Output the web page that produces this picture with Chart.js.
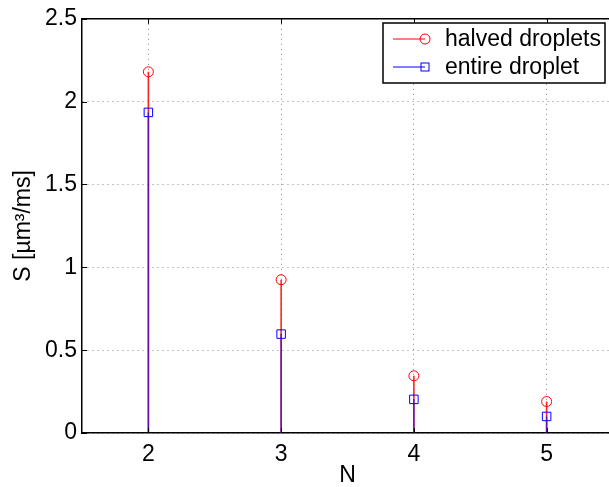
<!DOCTYPE html>
<html>
<head>
<meta charset="utf-8">
<script src="https://cdn.jsdelivr.net/npm/chart.js@4"></script>
<style>
  html, body { margin: 0; padding: 0; overflow: hidden; background: #fff; }
</style>
</head>
<body>
<canvas id="stemChart" width="620" height="487"></canvas>
<script>
// data
const nValues = [2, 3, 4, 5];
const halvedDroplets = [2.18, 0.925, 0.345, 0.19];
const entireDroplet = [1.935, 0.597, 0.203, 0.10];
const xTicks = [2, 3, 4, 5];
const yTicks = [0, 0.5, 1, 1.5, 2, 2.5];

const FONT = "'Liberation Sans', Arial, Helvetica, sans-serif";

const toPoints = (ys) => nValues.map((n, i) => ({ x: n, y: ys[i] }));

// vertical stems from each marker down to zero
const stemPlugin = {
  id: "stems",
  beforeDatasetsDraw(chart) {
    const ctx = chart.ctx;
    const y0 = chart.scales.y.getPixelForValue(0);
    const colors = ["rgba(255,0,0,0.85)", "rgba(0,0,255,0.6)"];
    ctx.save();
    chart.data.datasets.forEach((ds, di) => {
      const meta = chart.getDatasetMeta(di);
      ctx.strokeStyle = colors[di];
      ctx.lineWidth = 1.6;
      meta.data.forEach((pt) => {
        ctx.beginPath();
        ctx.moveTo(pt.x, pt.y);
        ctx.lineTo(pt.x, y0);
        ctx.stroke();
      });
    });
    ctx.restore();
  },
};

// MATLAB style frame: top line and inward ticks
const framePlugin = {
  id: "frame",
  afterDraw(chart) {
    const { ctx, chartArea: a, scales } = chart;
    ctx.save();
    ctx.strokeStyle = "#000";
    ctx.lineWidth = 1.5;
    ctx.beginPath();
    ctx.moveTo(a.left, a.top);
    ctx.lineTo(a.right, a.top);
    ctx.stroke();
    ctx.lineWidth = 1;
    xTicks.forEach((v) => {
      const x = Math.round(scales.x.getPixelForValue(v)) + 0.5;
      ctx.beginPath();
      ctx.moveTo(x, a.bottom);
      ctx.lineTo(x, a.bottom - 5);
      ctx.moveTo(x, a.top);
      ctx.lineTo(x, a.top + 5);
      ctx.stroke();
    });
    yTicks.forEach((v) => {
      const y = Math.round(scales.y.getPixelForValue(v)) + 0.5;
      ctx.beginPath();
      ctx.moveTo(a.left, y);
      ctx.lineTo(a.left + 5, y);
      ctx.stroke();
    });
    ctx.restore();
  },
};

// legend box in the upper right corner
const legendPlugin = {
  id: "boxLegend",
  afterDraw(chart) {
    const ctx = chart.ctx;
    const bx = 383, by = 23, bw = 222, bh = 60;
    ctx.save();
    ctx.fillStyle = "#fff";
    ctx.fillRect(bx, by, bw, bh);
    ctx.strokeStyle = "#000";
    ctx.lineWidth = 1.5;
    ctx.strokeRect(bx, by, bw, bh);
    ctx.font = "23px " + FONT;
    ctx.textBaseline = "middle";
    const rows = [by + 16, by + 44];
    chart.data.datasets.forEach((ds, i) => {
      const y = rows[i];
      ctx.strokeStyle = ds.borderColor;
      ctx.lineWidth = 1;
      ctx.beginPath();
      ctx.moveTo(bx + 10, y);
      ctx.lineTo(bx + 42, y);
      ctx.stroke();
      if (ds.pointStyle === "circle") {
        ctx.beginPath();
        ctx.arc(bx + 42, y, 5, 0, Math.PI * 2);
        ctx.stroke();
      } else {
        ctx.strokeRect(bx + 38, y - 4, 8, 8);
      }
      ctx.fillStyle = "#000";
      ctx.fillText(ds.label, bx + 62, y + 1);
    });
    ctx.restore();
  },
};

const ctx = document.getElementById("stemChart").getContext("2d");
new Chart(ctx, {
  type: "scatter",
  data: {
    datasets: [
      {
        label: "halved droplets",
        data: toPoints(halvedDroplets),
        pointStyle: "circle",
        pointRadius: 5,
        borderColor: "#ff0000",
        backgroundColor: "rgba(0,0,0,0)",
        borderWidth: 1,
      },
      {
        label: "entire droplet",
        data: toPoints(entireDroplet),
        pointStyle: "rect",
        pointRadius: 6,
        borderColor: "#0000ff",
        backgroundColor: "rgba(0,0,0,0)",
        borderWidth: 1,
      },
    ],
  },
  options: {
    responsive: false,
    animation: false,
    layout: { padding: { top: 15, right: 7, left: 0, bottom: 0 } },
    plugins: {
      legend: { display: false },
      tooltip: { enabled: false },
    },
    scales: {
      x: {
        type: "linear",
        min: 1.5,
        max: 5.5,
        afterBuildTicks: (scale) => {
          scale.ticks = xTicks.map((v) => ({ value: v }));
        },
        afterFit: (scale) => { scale.height = 54; },
        grid: { color: "#888", lineWidth: 1, drawTicks: false },
        border: { color: "#000", width: 1.5, dash: [1, 4] },
        ticks: { color: "#000", padding: 8, font: { family: FONT, size: 23 } },
        title: {
          display: true,
          text: "N",
          color: "#000",
          font: { family: FONT, size: 23 },
          padding: { top: 0, bottom: -2 },
        },
      },
      y: {
        min: 0,
        max: 2.5,
        afterBuildTicks: (scale) => {
          scale.ticks = yTicks.map((v) => ({ value: v }));
        },
        afterFit: (scale) => { scale.width = 82; },
        grid: { color: "#888", lineWidth: 1, drawTicks: false },
        border: { color: "#000", width: 1.5, dash: [1, 4] },
        ticks: {
          color: "#000",
          padding: 5,
          font: { family: FONT, size: 23 },
          callback: (v) => String(v),
        },
        title: {
          display: true,
          text: "S [µm³/ms]",
          color: "#000",
          font: { family: FONT, size: 23 },
          padding: { top: 10, bottom: 0 },
        },
      },
    },
  },
  plugins: [stemPlugin, framePlugin, legendPlugin],
});
</script>
</body>
</html>
